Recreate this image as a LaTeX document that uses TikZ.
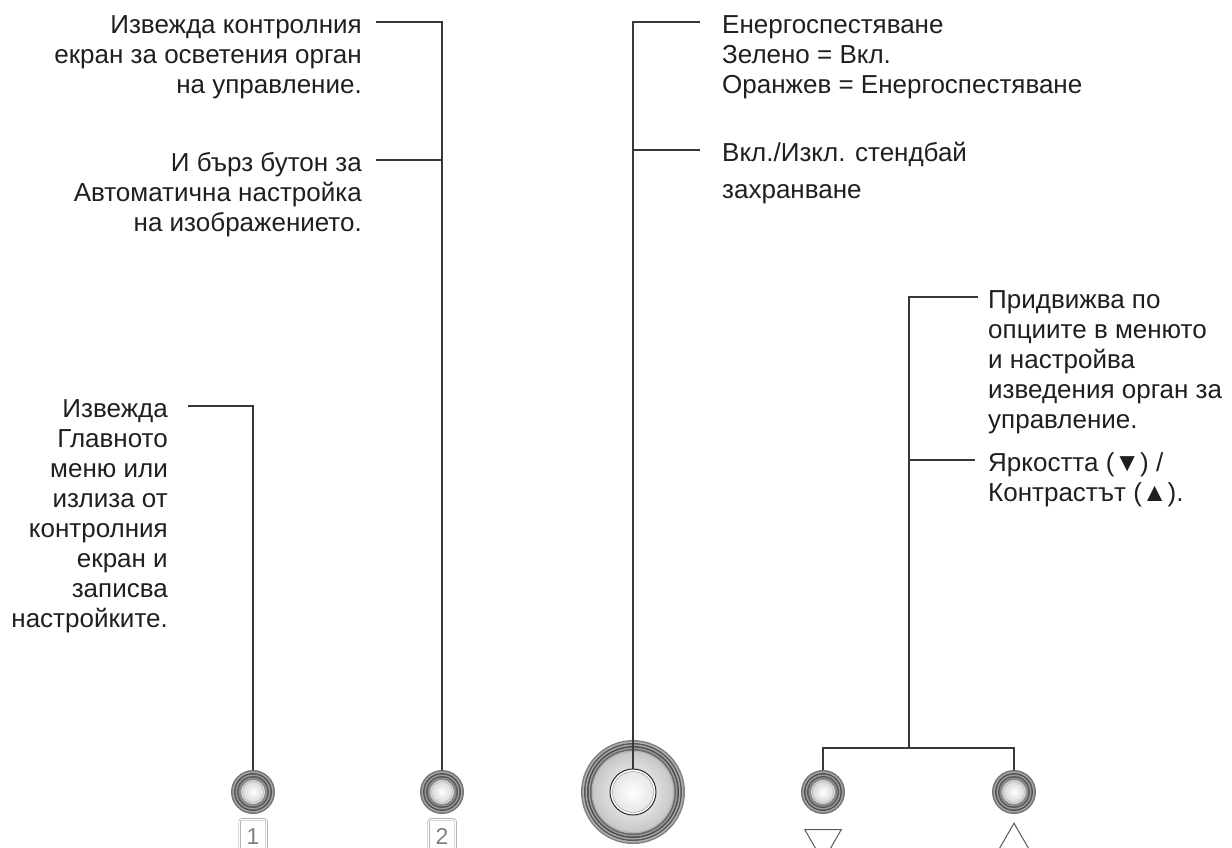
\documentclass[tikz,border=0pt]{standalone}
\usepackage{fontspec}
\setmainfont{Liberation Sans}
\usetikzlibrary{positioning, shapes.geometric}
\tikzset{leader/.style={draw=black!78, line width=1.3pt},
  callout/.style={font=\fontsize{26}{30}\selectfont, text=black!88, inner sep=0pt},
  knob/.style={circle, inner sep=0pt, minimum size=44pt},
  keycap/.style={draw=black!50, double=white, double distance=1.2pt, rounded corners=2pt, minimum width=27pt, minimum height=34pt, anchor=north, text=black!50, font=\fontsize{23}{23}\selectfont},
  arrowmark/.style={regular polygon, regular polygon sides=3, draw=black!65, line width=1pt, inner sep=0pt, minimum size=42pt}}

\begin{document}
\begin{tikzpicture}[x=1pt, y=-1pt]
  \useasboundingbox (0,0) rectangle (1232,847);
  % buttons
  \node[knob] (menu) at (253,792) {};
  \node[knob] (auto) at (442,792) {};
  \node[knob] (down) at (823,792) {};
  \node[knob] (up) at (1014,792) {};
  \node[circle, inner sep=0pt, minimum size=46pt] (power) at (633,792) {};
  \foreach \k in {menu,auto,down,up} {
    \foreach \r/\g in {22/55,20.5/35,19/68,17.5/40,16/65,14.5/45}
      \fill[black!\g] (\k) circle (\r pt);
    \shade[inner color=white, outer color=black!18, draw=black!55] (\k) circle (12.5pt);
    \draw[black!30] (\k) circle (10.5pt);
  }
  \foreach \r/\g in {52/50,50.5/30,49/65,47.5/35,46/70,44.5/40,43/60,41.5/30}
    \fill[black!\g] (power) circle (\r pt);
  \shade[inner color=white, outer color=black!22] (power) circle (40pt);
  \draw[black!85, line width=1pt, fill=white] (power) circle (23pt);
  \shade[inner color=white, outer color=black!10, draw=black!45] (power) circle (20.5pt);
  % key labels
  \node[keycap, below=5pt of menu] (menu key) {1};
  \node[keycap, below=5pt of auto] (auto key) {2};
  \node[arrowmark, shape border rotate=180, below=15pt of down] (down mark) {};
  \node[arrowmark, below=8pt of up] (up mark) {};
  % texts (anchored at the baseline of their last line)
  \node[callout, align=right, anchor=base east] (auto text) at (362,93) {Извежда контролния\\екран за осветения орган\\на управление.};
  \node[callout, align=right, anchor=base east] (auto quick) at (362,231) {И бърз бутон за\\Автоматична настройка\\на изображението.};
  \node[callout, align=right, anchor=base east] (menu text) at (168,627) {Извежда\\Главното\\меню или\\излиза от\\контролния\\екран и\\записва\\настройките.};
  \node[callout, align=left, anchor=base west] (power led) at (722,93) {Енергоспестяване\\Зелено = Вкл.\\Оранжев = Енергоспестяване};
  \node[callout, align=left, anchor=base west, font=\fontsize{26}{37}\selectfont] (power text) at (722,198) {Вкл./Изкл. стендбай\\захранване};
  \node[callout, align=left, anchor=base west] (arrows text) at (988,428) {Придвижва по\\опциите в менюто\\и настройва\\изведения орган за\\управление.};
  \node[callout, align=left, anchor=base west] (arrows quick) at (988,501) {Яркостта (▼) /\\Контрастът (▲).};
  % leaders
  \coordinate (auto tip) at (376,22);
  \coordinate (quick tip) at (376,160);
  \coordinate (menu tip) at (188,406);
  \coordinate (led tip) at (700,22);
  \coordinate (power tip) at (700,150);
  \coordinate (arrows tip) at (978,297);
  \coordinate (bright tip) at (975,460);
  \coordinate (fork) at (909,748);
  \draw[leader] (auto tip) -| (auto.north);
  \draw[leader] (quick tip) -- (quick tip -| auto);
  \draw[leader] (menu tip) -| (menu.north);
  \draw[leader] (led tip) -| (power.north);
  \draw[leader] (power tip) -- (power tip -| power);
  \draw[leader] (arrows tip) -| (fork);
  \draw[leader] (bright tip) -- (bright tip -| fork);
  \draw[leader] (down.north) |- (fork) -| (up.north);
\end{tikzpicture}
\end{document}
